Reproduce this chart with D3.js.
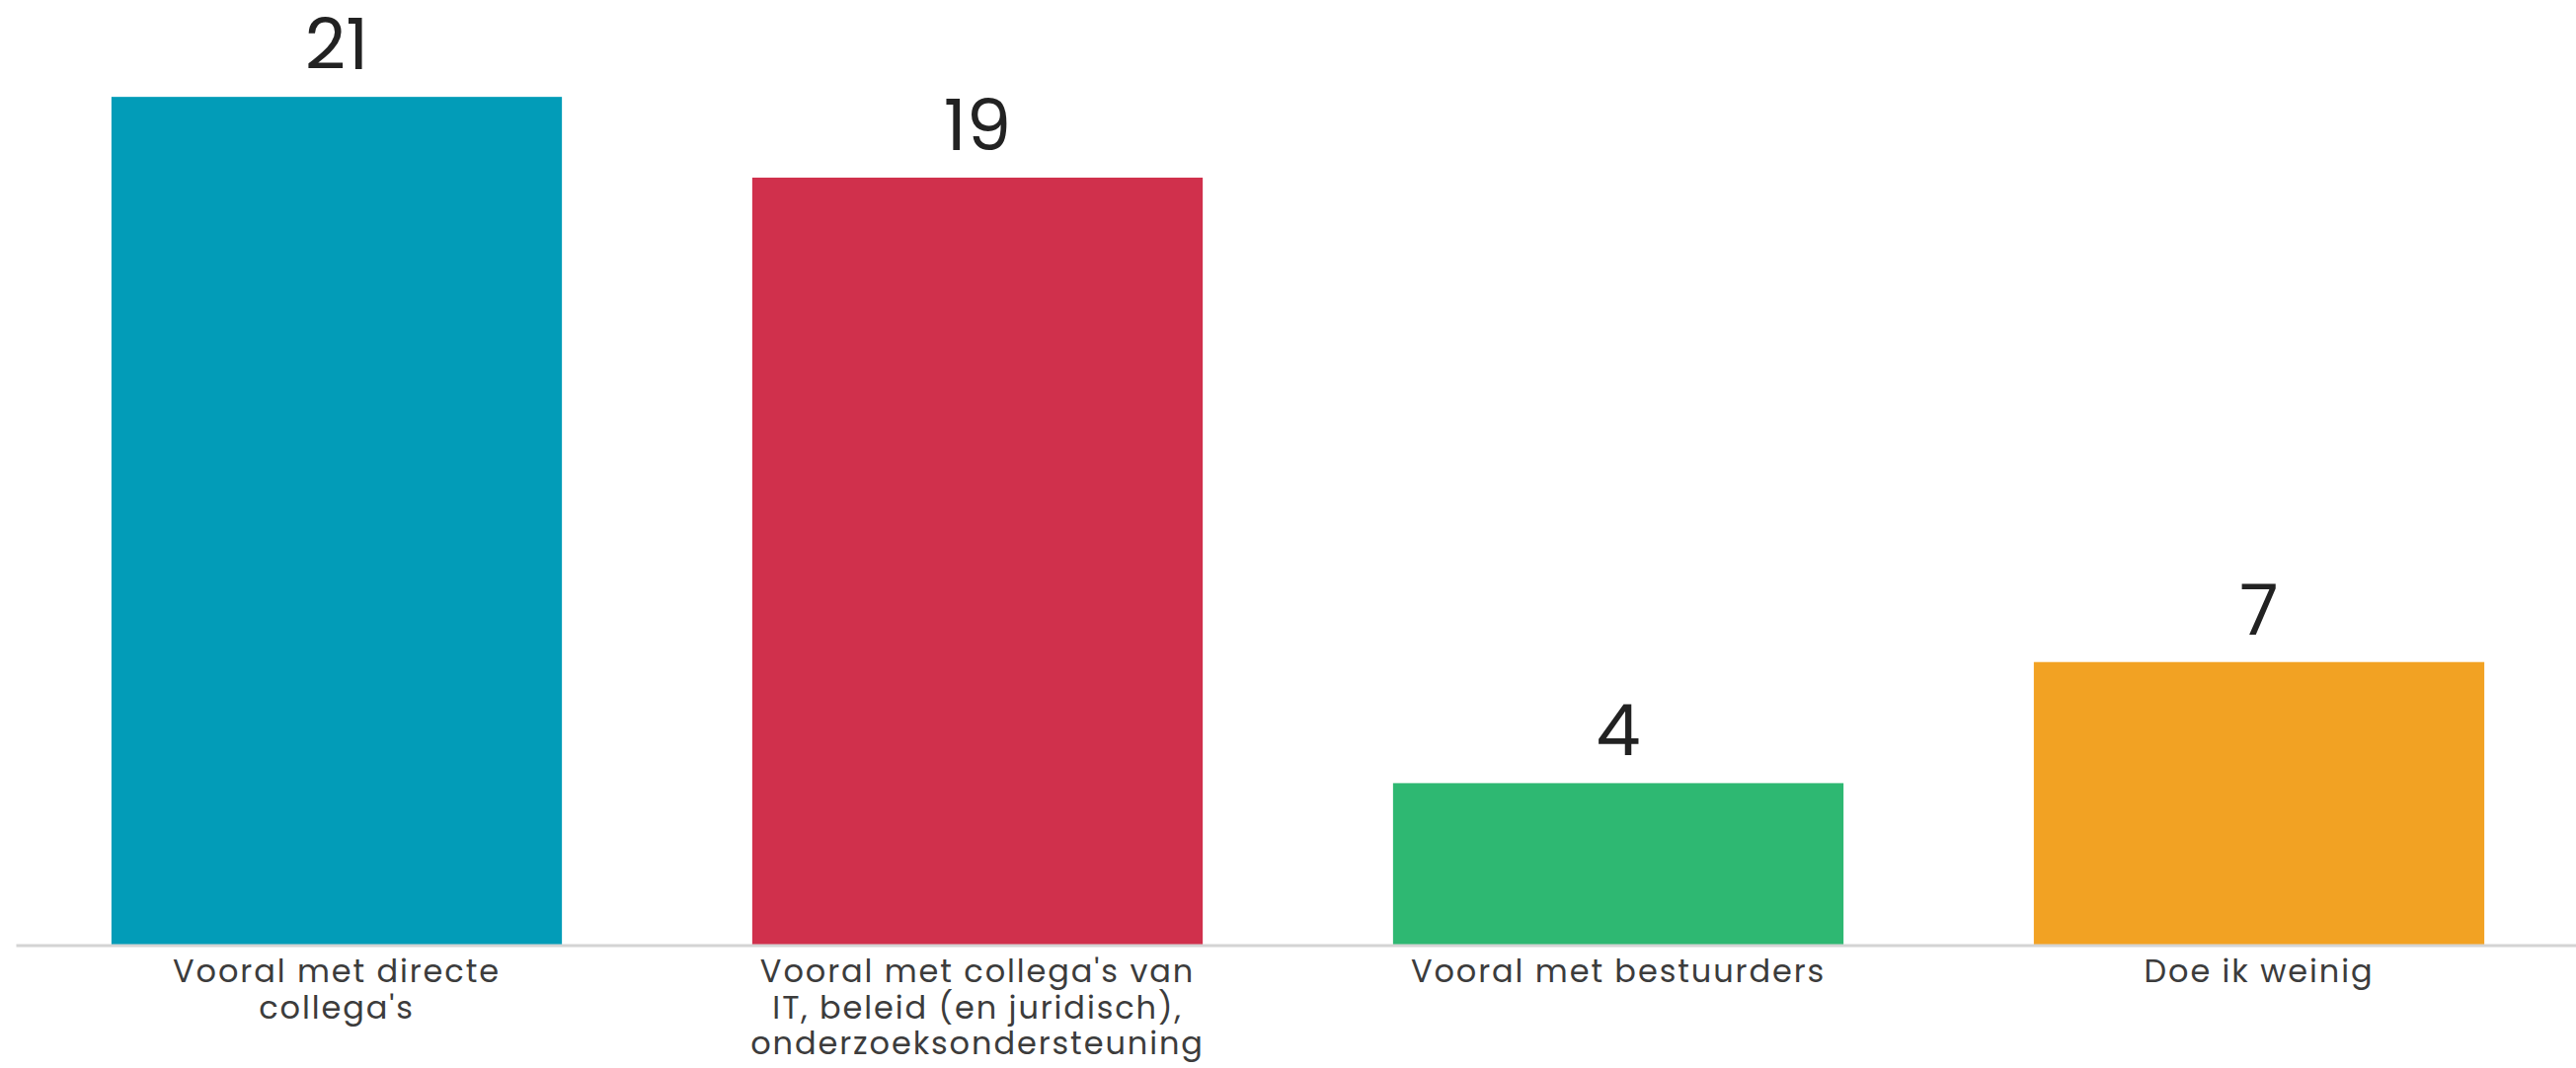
<!DOCTYPE html>
<html>
<head>
<meta charset="utf-8">
<script src="https://cdn.jsdelivr.net/npm/d3@7"></script>
<style>
  html, body { margin: 0; padding: 0; background: #fff; }
  #chart { width: 2609px; height: 1082px; }
  .value-label { font-family: "Poppins", "Open Sans", sans-serif; font-size: 72px; fill: #222; font-weight: 400; }
  .cat-label { font-family: "Poppins", "Open Sans", sans-serif; font-size: 32px; fill: #3c3c3c; letter-spacing: 1.9px; }
</style>
</head>
<body>
<div id="chart"></div>
<script>
// answers as shown on the x axis, one entry per line of the label
const categories = [
  ['Vooral met directe', "collega's"],
  ["Vooral met collega's van", 'IT, beleid (en juridisch),', 'onderzoeksondersteuning'],
  ['Vooral met bestuurders'],
  ['Doe ik weinig'],
];
const counts = [21, 19, 4, 7];
const barColors = ['#029cb8', '#d0304c', '#2eb872', '#f2a223'];

const width = 2609;
const height = 1082;
const baseline = 957;

const svg = d3.select('#chart')
  .append('svg')
  .attr('width', width)
  .attr('height', height);

const keys = categories.map((d, i) => i);

const xScale = d3.scaleBand()
  .domain(keys)
  .range([16.5, 2612.5])
  .paddingInner(0.297)
  .paddingOuter(0.1485);

const yScale = d3.scaleLinear()
  .domain([0, 23.4])
  .range([baseline, 0]);

// bars
svg.selectAll('.bar')
  .data(counts)
  .enter()
  .append('rect')
  .attr('class', 'bar')
  .attr('x', (d, i) => xScale(i))
  .attr('y', d => yScale(d))
  .attr('width', xScale.bandwidth())
  .attr('height', d => yScale(0) - yScale(d))
  .attr('fill', (d, i) => barColors[i]);

// baseline
svg.append('line')
  .attr('x1', xScale.range()[0])
  .attr('x2', width)
  .attr('y1', yScale(0) + 1)
  .attr('y2', yScale(0) + 1)
  .attr('stroke', '#d4d4d4')
  .attr('stroke-width', 3);

// value on top of each bar
svg.selectAll('.value-label')
  .data(counts)
  .enter()
  .append('text')
  .attr('class', 'value-label')
  .attr('x', (d, i) => xScale(i) + xScale.bandwidth() / 2)
  .attr('y', d => yScale(d) - 28)
  .attr('text-anchor', 'middle')
  .text(d => d);

// category labels under the axis
const labels = svg.selectAll('.cat-label')
  .data(categories)
  .enter()
  .append('text')
  .attr('class', 'cat-label')
  .attr('text-anchor', 'middle')
  .attr('transform', (d, i) => `translate(${xScale(i) + xScale.bandwidth() / 2}, ${yScale(0) + 38})`);

labels.selectAll('tspan')
  .data(d => d)
  .enter()
  .append('tspan')
  .attr('x', 0)
  .attr('y', (d, i) => i * 36.5)
  .text(d => d);
</script>
</body>
</html>
